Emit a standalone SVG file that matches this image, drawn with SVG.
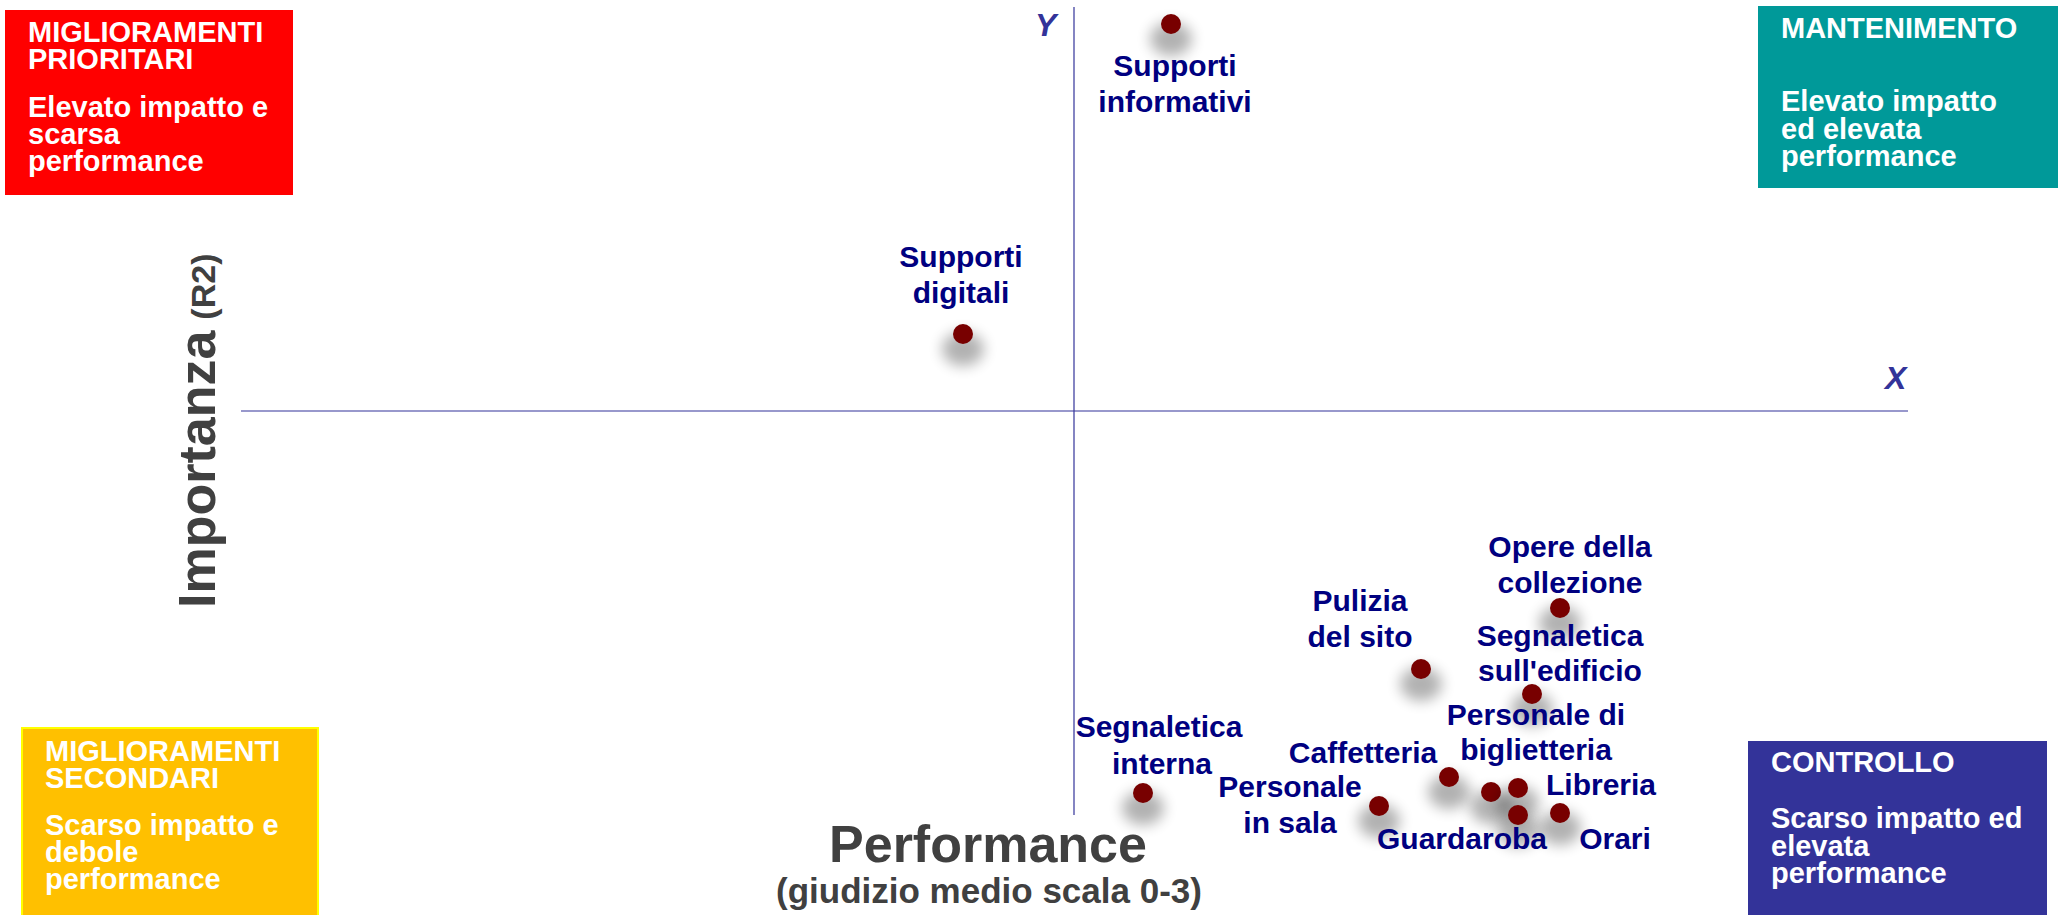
<svg xmlns="http://www.w3.org/2000/svg" width="2060" height="915" viewBox="0 0 2060 915">
<style>
.box{font-family:"Liberation Sans",Arial,sans-serif;font-weight:bold;font-size:29px;fill:#ffffff}
.lbl{font-family:"Liberation Sans",Arial,sans-serif;font-weight:bold;font-size:30px;fill:#000080;text-anchor:middle}
.axt{font-family:"Liberation Sans",Arial,sans-serif;font-weight:bold;fill:#404040}
.axl{font-family:"Liberation Sans",Arial,sans-serif;font-weight:bold;font-style:italic;font-size:32px;fill:#333399}
.dot{fill:#780000}
.sh{fill:#000000;opacity:0.3;filter:url(#blur)}
.ax{stroke:#333399;stroke-width:1.2;fill:none}
</style>
<defs>
<filter id="blur" x="-100%" y="-100%" width="300%" height="300%"><feGaussianBlur stdDeviation="7"/></filter>
</defs>
<rect width="2060" height="915" fill="#ffffff"/>

<g id="axes">
<line class="ax" x1="241" y1="411" x2="1908" y2="411"/>
<line class="ax" x1="1074" y1="7" x2="1074" y2="815"/>
<text class="axl" x="1885" y="389">X</text>
<text class="axl" x="1035" y="36">Y</text>
<text class="axt" font-size="52" x="988" y="862" text-anchor="middle">Performance</text>
<text class="axt" font-size="35" x="989" y="903" text-anchor="middle">(giudizio medio scala 0-3)</text>
<text class="axt" transform="translate(215,608) rotate(-90)"><tspan font-size="52">Importanza</tspan><tspan font-size="34" dx="11">(R2)</tspan></text>
</g>

<g id="q-prioritari">
<rect x="5" y="10" width="288" height="185" fill="#ff0000"/>
<text class="box"><tspan x="28" y="42">MIGLIORAMENTI</tspan><tspan x="28" y="69">PRIORITARI</tspan><tspan x="28" y="117">Elevato impatto e</tspan><tspan x="28" y="144">scarsa</tspan><tspan x="28" y="171">performance</tspan></text>
</g>
<g id="q-mantenimento">
<rect x="1758" y="6" width="300" height="182" fill="#009999"/>
<text class="box"><tspan x="1781" y="38">MANTENIMENTO</tspan><tspan x="1781" y="111">Elevato impatto</tspan><tspan x="1781" y="139">ed elevata</tspan><tspan x="1781" y="166">performance</tspan></text>
</g>
<g id="q-secondari">
<rect x="22" y="728" width="296" height="200" fill="#ffc000" stroke="#ffff00" stroke-width="2"/>
<text class="box"><tspan x="45" y="761">MIGLIORAMENTI</tspan><tspan x="45" y="788">SECONDARI</tspan><tspan x="45" y="835">Scarso impatto e</tspan><tspan x="45" y="862">debole</tspan><tspan x="45" y="889">performance</tspan></text>
</g>
<g id="q-controllo">
<rect x="1748" y="741" width="299" height="190" fill="#333399"/>
<text class="box"><tspan x="1771" y="772">CONTROLLO</tspan><tspan x="1771" y="828">Scarso impatto ed</tspan><tspan x="1771" y="856">elevata</tspan><tspan x="1771" y="883">performance</tspan></text>
</g>

<g id="connectors"/>

<g id="n-supporti-informativi">
<ellipse class="sh" cx="1171" cy="39" rx="21" ry="17"/>
<circle class="dot" cx="1171" cy="24" r="10"/>
<text class="lbl"><tspan x="1175" y="76">Supporti</tspan><tspan x="1175" y="112">informativi</tspan></text>
</g>
<g id="n-supporti-digitali">
<ellipse class="sh" cx="963" cy="349" rx="21" ry="17"/>
<circle class="dot" cx="963" cy="334" r="10"/>
<text class="lbl"><tspan x="961" y="267">Supporti</tspan><tspan x="961" y="303">digitali</tspan></text>
</g>
<g id="n-opere">
<ellipse class="sh" cx="1560" cy="623" rx="21" ry="17"/>
<circle class="dot" cx="1560" cy="608" r="10"/>
<text class="lbl"><tspan x="1570" y="557">Opere della</tspan><tspan x="1570" y="593">collezione</tspan></text>
</g>
<g id="n-pulizia">
<ellipse class="sh" cx="1421" cy="684" rx="21" ry="17"/>
<circle class="dot" cx="1421" cy="669" r="10"/>
<text class="lbl"><tspan x="1360" y="611">Pulizia</tspan><tspan x="1360" y="647">del sito</tspan></text>
</g>
<g id="n-segnaletica-edificio">
<ellipse class="sh" cx="1532" cy="709" rx="21" ry="17"/>
<circle class="dot" cx="1532" cy="694" r="10"/>
<text class="lbl"><tspan x="1560" y="646">Segnaletica</tspan><tspan x="1560" y="681">sull'edificio</tspan></text>
</g>
<g id="n-segnaletica-interna">
<ellipse class="sh" cx="1143" cy="808" rx="21" ry="17"/>
<circle class="dot" cx="1143" cy="793" r="10"/>
<text class="lbl"><tspan x="1159" y="737">Segnaletica</tspan><tspan x="1162" y="774">interna</tspan></text>
</g>
<g id="n-personale-sala">
<ellipse class="sh" cx="1379" cy="821" rx="21" ry="17"/>
<circle class="dot" cx="1379" cy="806" r="10"/>
<text class="lbl"><tspan x="1290" y="797">Personale</tspan><tspan x="1290" y="833">in sala</tspan></text>
</g>
<g id="n-caffetteria">
<ellipse class="sh" cx="1449" cy="792" rx="21" ry="17"/>
<circle class="dot" cx="1449" cy="777" r="10"/>
<text class="lbl" x="1363" y="763">Caffetteria</text>
</g>
<g id="n-personale-biglietteria">
<ellipse class="sh" cx="1491" cy="807" rx="21" ry="17"/>
<circle class="dot" cx="1491" cy="792" r="10"/>
<text class="lbl"><tspan x="1536" y="725">Personale di</tspan><tspan x="1536" y="760">biglietteria</tspan></text>
</g>
<g id="n-libreria">
<ellipse class="sh" cx="1518" cy="803" rx="21" ry="17"/>
<circle class="dot" cx="1518" cy="788" r="10"/>
<text class="lbl" x="1601" y="795">Libreria</text>
</g>
<g id="n-guardaroba">
<ellipse class="sh" cx="1518" cy="830" rx="21" ry="17"/>
<circle class="dot" cx="1518" cy="815" r="10"/>
<text class="lbl" x="1462" y="849">Guardaroba</text>
</g>
<g id="n-orari">
<ellipse class="sh" cx="1560" cy="828" rx="21" ry="17"/>
<circle class="dot" cx="1560" cy="813" r="10"/>
<text class="lbl" x="1615" y="849">Orari</text>
</g>
</svg>
